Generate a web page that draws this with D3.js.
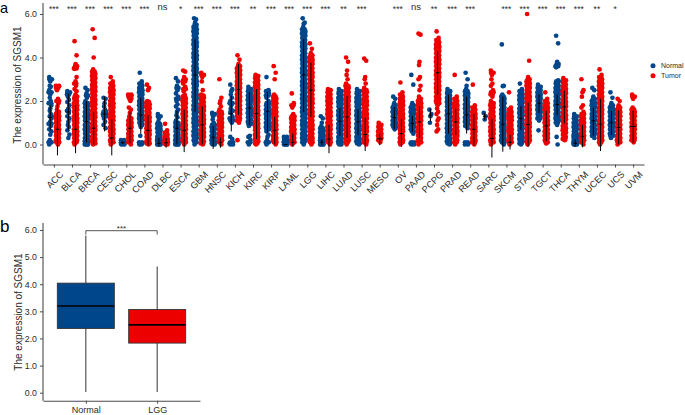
<!DOCTYPE html>
<html><head><meta charset="utf-8">
<script src="https://cdn.jsdelivr.net/npm/d3@7"></script>
<style>html,body{margin:0;padding:0;background:#fff}svg{display:block}text{font-family:"Liberation Sans",Arial,sans-serif}</style>
</head><body><svg id="c" width="685" height="415"></svg>
<script>
const categories=["ACC","BLCA","BRCA","CESC","CHOL","COAD","DLBC","ESCA","GBM","HNSC","KICH","KIRC","KIRP","LAML","LGG","LIHC","LUAD","LUSC","MESO","OV","PAAD","PCPG","PRAD","READ","SARC","SKCM","STAD","TGCT","THCA","THYM","UCEC","UCS","UVM"];
const significance=["***","***","***","***","***","***","ns","*","***","***","***","**","***","***","***","***","**","***","","***","ns","**","***","***","","***","***","***","***","***","**","*",""];
const yTicksA=[0,2,4,6];
const yTicksB=[0,1,2,3,4,5,6];
const groupNames=["Normal","LGG"];
const legendNames=["Normal","Tumor"];
const normalMean=[1.25,1.5,1.05,1.4,.08,1.35,.05,.75,3.2,.33,1.42,1.68,1.53,0,3.2,.1,1.07,1.05,null,1.24,.96,1.35,1.42,1.36,1.3,.93,1.2,1.9,1.84,.05,1.09,1.0,null];
const normalLow=[.66,.65,.1,.6,.02,.5,-.1,0,1.5,-.2,.6,.9,.55,-.02,1.5,-.03,.4,.43,null,.7,.58,1.05,.5,.5,1.15,-.33,.66,1.45,1.35,-.1,.4,.43,null];
const normalHigh=[1.8,2.35,2,2.2,.14,2.15,.3,1.55,4.85,.85,2.25,2.4,2.4,.02,4.85,.23,1.68,1.62,null,1.73,1.32,1.65,2.3,2.2,1.45,2.2,1.76,2.3,2.3,.23,1.7,1.55,null];
const tumorMean=[.7,.7,.75,.3,.75,.65,.08,.65,.9,.1,2.53,1.42,.65,.1,2.5,.25,1.27,.46,.26,.5,1.04,3.3,1.04,.7,.28,.1,.92,.85,1.73,.38,.93,.78,.83];
const tumorLow=[-.5,-.4,0,-.5,.05,-.05,-.15,-.35,0,-.15,1.35,.25,0,-.1,1.27,-.4,.3,-.3,-.03,-.1,.3,2.27,.43,-.05,-.6,-.23,-.1,.15,.97,-.13,-.3,0,.08];
const tumorHigh=[1.9,1.8,1.5,1.15,1.5,1.35,.3,1.6,1.75,.32,3.7,2.55,1.27,.5,3.77,.9,2.22,1.22,.5,1.17,1.76,4.3,1.65,1.4,1.17,.45,1.93,1.55,2.47,.9,2.1,1.58,1.55];
const normalValues=[
[3.1,3,2.9,2.7,2.65,2.5,2.4,2.3,2.15,2,1.9,1.8,1.65,1.55,1.4,1.3,1.2,1.05,.95,.85,.7,.6,.45,.2,.1,0],
[2.45,2.4,2.3,2.2,2.05,1.95,1.8,1.65,1.55,1.45,1.3,1.2,1.05,.9,.8,.65,.45,.3],
[2.6,2.5,2.35,2.25,2.15,2,1.9,1.8,1.7,1.6,1.5,1.4,1.3,1.2,1.1,1,.9,.8,.7,.6,.5,.4,.3,.2,.15,.1,.05,0,0],
[2.15,2.1,1.9,1.75,1.6,1.5,1.4,1.3,1.2,1.05,.9,.75],
[.2,.15,.1,.05,.02,.12,.08,0],
[3.3,2.9,2.8,2.7,2.6,2.5,2.4,2.3,2.2,2.1,2,1.9,1.8,1.7,1.6,1.5,1.4,1.3,1.2,1.1,1,.9,.8,.4,.1,.05,0],
[1.4,1.3,1.2,1.05,.95,.85,.75,.65,.55,.45,.35,.25,.2,.15,.1,.05,0,0],
[3.05,2.9,2.7,2.6,2.5,2.35,2.2,2.1,2,1.85,1.75,1.6,1.5,1.35,1.25,1.1,1,.9,.8,.7,.6,.5,.4,.3,.2,.1,.05,0,0],
[5.8,5.75,5.6,5.5,5.4,5.3,5.2,5.1,5,4.9,4.8,4.7,4.6,4.5,4.4,4.3,4.2,4.1,4,3.9,3.8,3.7,3.6,3.5,3.4,3.3,3.2,3.1,3,2.9,2.8,2.7,2.6,2.5,2.4,2.3,2.2,2.1,2,1.9,1.8,1.7,1.6,1.5,1.4,1.3,1.2,1.1,1,.9,.8,.7,.6,.5,.4,.3,.2,.1,0],
[1.45,1.4,1.3,1.15,1,.9,.8,.7,.6,.5,.4,.3,.2,.1,.05,0],
[2.75,2.55,2.45,2.3,2.15,2,1.9,1.8,1.65,1.55,1.45,1.3,1.2,1.1,1,.35,.25,.1,.05,0],
[2.65,2.55,2.45,2.35,2.25,2.15,2.05,1.95,1.85,1.75,1.65,1.55,1.45,1.35,1.25,1.15,1.05,.95,.85,.4,.35,.2,.1,0],
[3.1,2.5,2.45,2.35,2.25,2.15,2,1.9,1.8,1.7,1.6,1.5,1.4,1.3,1.2,1.1,1,.9,.8,.7,.6,.45,.35,.2,.1,0],
[.35,.3,.25,.2,.15,.12,.1,.08,.05,.02,0,0],
[5.8,5.6,5.55,5.4,5.3,5.2,5.1,5,4.9,4.8,4.7,4.6,4.5,4.4,4.3,4.2,4.1,4,3.9,3.8,3.7,3.6,3.5,3.4,3.3,3.2,3.1,3,2.9,2.8,2.7,2.6,2.5,2.4,2.3,2.2,2.1,2,1.9,1.8,1.7,1.6,1.5,1.4,1.3,1.2,1.1,1,.9,.8,.7,.6,.5,.4,.3,.2,.1,0],
[1.3,1.2,1,.85,.75,.65,.55,.45,.4,.35,.3,.25,.2,.15,.1,.05,0,0],
[2.55,2.45,2.35,2.25,2.15,2.05,1.95,1.85,1.75,1.65,1.55,1.45,1.35,1.25,1.15,1.05,.95,.85,.75,.65,.55,.45,.35,.25,.15,.1,.05,0],
[2.55,2.45,2.35,2.25,2.15,2.05,1.95,1.85,1.75,1.65,1.55,1.45,1.35,1.25,1.15,1.05,.95,.85,.75,.65,.55,.45,.35,.25,.15,.05,0],
[],
[2.2,2.1,1.9,1.8,1.7,1.6,1.5,1.4,1.3,1.2,1.1,1,.9,.8,.7],
[3.2,2.75,1.9,1.8,1.7,1.6,1.5,1.4,1.3,1.2,1.1,1,.9,.8,.7,.6,.5,.1,.05,0],
[1.6,1.4,1.3,1],
[2.55,2.45,2.35,2.25,2.15,2.05,1.95,1.85,1.75,1.65,1.55,1.45,1.35,1.25,1.15,1.05,.95,.85,.75,.65,.55,.45,.35,.25,.15,.05,0],
[3.3,3,2.7,2.55,2.45,2.35,2.25,2.15,2.05,1.95,1.85,1.75,1.65,1.55,1.45,1.35,1.25,1.15,1.05,.95,.85,.75,.1,.05,0],
[1.45,1.3,1.15],
[4.6,2.7,2.68,2.3,2.2,2.1,2,1.9,1.8,1.7,1.6,1.5,1.4,1.3,1.2,1.1,1,.9,.8,.7,.6,.5,.4,.3,.2,.1,0],
[2.8,2.55,2.45,2.35,2.25,2.15,2.05,1.95,1.85,1.75,1.65,1.55,1.45,1.35,1.25,1.15,1.05,.95,.85,.75,.65,.55,.45,.35,.25,.15,.05,0],
[2.75,2.65,2.6,2.5,2.4,2.3,2.2,2.1,2,1.9,1.8,1.7,1.6,1.5,1.4,1.3,1.2,1.1,.65],
[5,4.65,3.8,3.7,3.6,3.55,2.95,2.9,2.8,2.7,2.6,2.5,2.4,2.3,2.2,2.1,2,1.9,1.8,1.7,1.6,1.5,1.4,1.3,1.2,1.1,1,.9,.35,0],
[1.4,1.3,1.2,1.1,1,.9,.8,.7,.6,.5,.45,.4,.35,.3,.25,.2,.15,.1,.05,0,0],
[2.6,2.5,2.2,2.1,2,1.9,1.8,1.7,1.6,1.5,1.4,1.3,1.2,1.1,1,.9,.8,.7,.6,.5,.4,.3],
[2.4,2.15,1.9,1.8,1.7,1.6,1.5,1.4,1.3,1.2,1.1,1,.9,.8,.7,.6,.5,.4,.3],
[]
];
const tumorValues=[
[2.7,2.68,2.6,2.5,2.1,2,1.9,1.75,1.6,1.5,1.4,1.3,1.2,1.1,1,.9,.8,.7,.6,.5,.4,.3,.2,.1,0],
[4.75,4.1,3.7,3.6,3.5,3.48,3.1,2.9,2.8,2.7,2.55,2.45,2.3,2.2,2.1,2,1.9,1.8,1.7,1.6,1.5,1.4,1.3,1.2,1.1,1,.9,.8,.7,.6,.5,.4,.3,.2,.1,0],
[5.3,4.9,4,3.45,3.35,3.25,3.15,3.05,2.95,2.85,2.75,2.65,2.55,2.45,2.35,2.25,2.15,2.05,1.95,1.85,1.75,1.65,1.55,1.45,1.35,1.25,1.15,1.05,.95,.85,.75,.65,.55,.45,.35,.25,.15,.05,0],
[3.1,2.9,2.8,2.7,2.6,2.5,2.4,2.3,2.2,2.1,2,1.9,1.8,1.7,1.6,1.5,1.4,1.3,1.2,1.1,1,.9,.8,.7,.6,.5,.4,.3,.2,.1,0],
[2.3,2.25,2.2,2.1,2,1.7,1.6,1.45,1.3,1.2,1.1,1,.9,.8,.7,.6,.5,.4,.3,.2,.1,0],
[2.75,2.6,2.5,2,1.95,1.85,1.75,1.65,1.55,1.45,1.35,1.25,1.15,1.05,.95,.85,.75,.65,.55,.45,.35,.25,.15,.05,0],
[.95,.65,.55,.45,.35,.25,.15,.1,.05,0],
[3.4,3.35,3.1,3,2.9,2.8,2.65,2.55,2.45,2.3,2.2,2.1,2,1.9,1.8,1.7,1.6,1.5,1.4,1.3,1.2,1.1,1,.9,.8,.7,.6,.5,.4,.3,.2,.1,0],
[3.3,3.2,3.1,2.9,2.5,2.3,2.25,2.15,2.05,1.95,1.85,1.75,1.65,1.55,1.45,1.35,1.25,1.15,1.05,.95,.85,.75,.65,.55,.45,.35,.25,.15,.05,0],
[3,2.15,2,1.9,1.75,1.6,1.5,1.4,1.3,1.2,1.1,1,.9,.8,.7,.6,.5,.4,.3,.2,.1,0],
[4.1,3.9,3.7,3.6,3.5,3.4,3.3,3.2,3.1,3,2.9,2.8,2.7,2.6,2.5,2.4,2.3,2.2,2.1,2,1.9,1.8,1.7,1.6,1.5,1.4,1.3,1.2,1.1,1,.2],
[3.2,3.15,3.05,2.95,2.85,2.75,2.65,2.55,2.45,2.35,2.25,2.15,2.05,1.95,1.85,1.75,1.65,1.55,1.45,1.35,1.25,1.15,1.05,.95,.85,.75,.65,.55,.45,.35,.25,.15,.05,0],
[3.6,3.3,3,2.3,2.2,2.1,2,1.9,1.8,1.7,1.6,1.5,1.4,1.3,1.2,1.1,1,.9,.8,.7,.6,.5,.4,.3,.2,.1,0],
[2.35,1.9,1.8,1.7,1.4,1.3,1.2,1.1,1,.9,.8,.7,.6,.5,.4,.3,.2,.1,0],
[4.65,4.4,4.2,4.1,4,3.9,3.8,3.7,3.6,3.5,3.4,3.3,3.2,3.1,3,2.9,2.8,2.7,2.6,2.5,2.4,2.3,2.2,2.1,2,1.9,1.8,1.7,1.6,1.5,1.4,1.3,1.2,1.1,1,.9,.8,.7,.6,.5,.4,.3,.2,.1,0],
[2.55,2.5,2.4,2.3,2.2,2.1,2,1.9,1.8,1.7,1.6,1.5,1.4,1.3,1.2,1.1,1,.9,.8,.7,.6,.5,.4,.3,.2,.1,0],
[4,3.8,3.4,3.2,3,2.8,2.7,2.6,2.5,2.4,2.3,2.2,2.1,2,1.9,1.8,1.7,1.6,1.5,1.4,1.3,1.2,1.1,1,.9,.8,.7,.6,.5,.4,.3,.2,.1,0],
[3.95,3.85,3.1,3,2.8,2.6,2.5,2.4,2.3,2.2,2.1,2,1.9,1.8,1.7,1.6,1.5,1.4,1.3,1.2,1.1,1,.9,.8,.7,.6,.5,.4,.3,.2,.1,0],
[1,.9,.8,.7,.6,.5,.4,.3,.2,.1],
[2.85,2.4,2.3,2.2,2.1,2,1.9,1.8,1.7,1.6,1.5,1.4,1.3,1.2,1.1,1,.9,.8,.7,.6,.5,.4,.3,.2,.1,0],
[5.1,5.05,3.8,3.65,3.1,3,2.7,2.5,2.2,2.1,2,1.9,1.8,1.7,1.6,1.5,1.4,1.3,1.2,1.1,1,.9,.8,.7,.6,.5,.4,.3,.2,.1,0],
[5.2,4.9,4.8,4.7,4.6,4.5,4.4,4.3,4.2,4.1,4,3.9,3.8,3.7,3.6,3.5,3.4,3.3,3.2,3.1,3,2.9,2.8,2.7,2.6,2.5,2.4,2.3,2.2,2.1,2,1.9,1.8,1.65,1.5,1.4,1.2,1.1,.9,.7,.6],
[3.2,2.2,2.1,2,1.9,1.8,1.7,1.6,1.5,1.4,1.3,1.2,1.1,1,.9,.8,.7,.6,.5,.4,.3,.2,.1,0],
[2.75,1.8,1.7,1.6,1.5,1.4,1.3,1.2,1.1,1,.9,.8,.7,.6,.5,.4,.3,.2,.1,0],
[3.4,3.3,3.2,3,2.8,2.7,2.5,2.4,2.3,2.2,2,1.9,1.8,1.7,1.6,1.5,1.4,1.3,1.2,1.1,1,.9,.8,.7,.6,.5,.4,.3,.2,.1,0],
[2.4,1.7,1.6,1.5,1.4,1.3,1.2,1.1,1,.9,.8,.7,.6,.5,.4,.3,.2,.1,0],
[6,3.85,3.1,3,2.9,2.8,2.7,2.6,2.5,2.4,2.3,2.2,2.1,2,1.9,1.8,1.7,1.6,1.5,1.4,1.3,1.2,1.1,1,.9,.8,.7,.6,.5,.4,.3,.2,.1,0],
[2.4,2.1,2,1.9,1.8,1.7,1.6,1.5,1.4,1.3,1.2,1.1,1,.9,.8,.7,.6,.5,.4,.3,.2,.1,.05],
[3.05,2.95,2.85,2.75,2.65,2.55,2.45,2.35,2.25,2.15,2.05,1.95,1.85,1.75,1.65,1.55,1.45,1.35,1.25,1.15,1.05,.95,.85,.75,.65,.55,.45,.35,.25,.2],
[3,2.5,2.4,2.2,1.8,1.7,1.5,1.4,1.3,1.2,1.1,1,.9,.8,.7,.6,.5,.4,.3,.2,.1,0],
[3.45,3.2,3.1,3,2.9,2.8,2.7,2.6,2.5,2.4,2.3,2.2,2.1,2,1.9,1.8,1.7,1.6,1.5,1.4,1.3,1.2,1.1,1,.9,.8,.7,.6,.5,.4,.3,.2,.1,0],
[2.1,2,1.8,1.7,1.6,1.5,1.4,1.3,1.2,1.1,1,.9,.8,.7,.6,.5,.4,.3,.2,.1,0],
[2.3,2.2,2.1,1.7,1.6,1.5,1.4,1.3,1.2,1.1,1,.9,.8,.7,.6,.5,.4,.3,.2,.1]
];
const boxLow=[.03,.03];
const boxQ1=[2.37,1.83];
const boxMedian=[3.2,2.5];
const boxQ3=[4.04,3.07];
const boxHigh=[5.8,4.65];
const colors=["#00468B","#ED0000"];

const svg=d3.select("#c");
const axisColor="#4a4a4a", textColor="#2b2b2b";
const x=d3.scalePoint().domain(categories).range([43,644]).padding(.6);
const y=d3.scaleLinear().domain([0,6]).range([144.5,14]);
const dodge=3.6, jitter=[-1,1,0,-.5,.5];
const jitterLeft=[-1.7,-.9,-1.4,-.5,-1.6,-1.1], jitterRight=[1.3,1.7,.7,1.5,1,1.7];

function styleAxis(g,size){
  g.selectAll(".domain").attr("stroke",axisColor).attr("stroke-width",1.1);
  g.selectAll(".tick line").attr("stroke",axisColor).attr("stroke-width",1);
  g.selectAll("text").attr("fill",textColor).style("font-size",size+"px");
}
// panel a axes
const gxA=svg.append("g").attr("transform","translate(0,164.5)").call(d3.axisBottom(x).tickSize(3).tickSizeOuter(0));
styleAxis(gxA,9.2);
gxA.selectAll("text").attr("text-anchor","end").attr("dx","0").attr("dy","0").attr("y",0).attr("x",0)
  .attr("transform","translate(5,6) rotate(-45)").attr("dominant-baseline","hanging");
const gyA=svg.append("g").attr("transform","translate(43,0)").call(d3.axisLeft(y).tickValues(yTicksA).tickSize(3));
gyA.select(".domain").attr("d","M0,3V164.5");
styleAxis(gyA,8.8);
svg.append("text").attr("transform","translate(21,85) rotate(-90)").attr("text-anchor","middle").attr("fill",textColor).style("font-size","10px").text("The expression of SGSM1");

// Where a stretch of values is dense the jitter fills the width of the column
function spread(vals){
  const out=[];
  vals.forEach((v,k)=>{
    const near=vals.filter(w=>Math.abs(w-v)<=.12).length;
    if(near>=3){ out.push({v,o:jitterLeft[k%jitterLeft.length]}); out.push({v,o:jitterRight[k%jitterRight.length]}); }
    else out.push({v,o:jitter[k%jitter.length]});
  });
  return out;
}
function series(vals,idx){
  categories.forEach((c,i)=>{
    const single=normalValues[i].length===0;
    const cx=x(c)+(single?0:(idx===0?-dodge:dodge));
    svg.append("g").selectAll("circle").data(spread(vals[i])).join("circle")
      .attr("cx",d=>cx+d.o).attr("cy",d=>y(d.v)).attr("r",2.35).attr("fill",colors[idx]);
  });
}
series(normalValues,0);
series(tumorValues,1);
function bars(mean,low,high,idx){
  categories.forEach((c,i)=>{
    if(mean[i]===null) return;
    const single=normalValues[i].length===0;
    const cx=x(c)+(single?0:(idx===0?-dodge:dodge));
    const g=svg.append("g").attr("stroke","#000").attr("stroke-width",1);
    g.append("line").attr("x1",cx).attr("x2",cx).attr("y1",y(low[i])).attr("y2",y(high[i]));
    const w=single?3:1.8;
    g.append("line").attr("x1",cx-w).attr("x2",cx+w).attr("y1",y(mean[i])).attr("y2",y(mean[i]));
  });
}
bars(normalMean,normalLow,normalHigh,0);
bars(tumorMean,tumorLow,tumorHigh,1);
// significance
svg.append("g").selectAll("text").data(categories).join("text")
  .attr("x",d=>x(d)).attr("y",(d,i)=>significance[i]==="ns"?10:12)
  .attr("text-anchor","middle").attr("fill",textColor)
  .style("font-size",(d,i)=>significance[i]==="ns"?"9.5px":"8.5px")
  .text((d,i)=>significance[i]);
// legend
legendNames.forEach((n,i)=>{
  const ly=65.7+i*10;
  svg.append("circle").attr("cx",653).attr("cy",ly).attr("r",2.5).attr("fill",colors[i]);
  svg.append("text").attr("x",661).attr("y",ly+2.5).attr("fill",textColor).style("font-size","7px").text(n);
});
// panel letters
svg.append("text").attr("x",0).attr("y",13.4).attr("fill","#000").style("font-size","14.5px").text("a");
svg.append("text").attr("x",0).attr("y",232).attr("fill","#000").style("font-size","17px").text("b");

// panel b
const xb=d3.scalePoint().domain(groupNames).range([43,200]).padding(.6);
const yb=d3.scaleLinear().domain([0,6]).range([392.7,230]);
const gxB=svg.append("g").attr("transform","translate(0,400.7)").call(d3.axisBottom(xb).tickSize(3).tickSizeOuter(0));
styleAxis(gxB,9);
const gyB=svg.append("g").attr("transform","translate(43,0)").call(d3.axisLeft(yb).tickValues(yTicksB).tickSize(3));
gyB.select(".domain").attr("d","M0,223V400.7");
styleAxis(gyB,8.8);
svg.append("text").attr("transform","translate(22,312) rotate(-90)").attr("text-anchor","middle").attr("fill",textColor).style("font-size","10px").text("The expression of SGSM1");
groupNames.forEach((n,i)=>{
  const cx=xb(n), w=57;
  svg.append("line").attr("x1",cx).attr("x2",cx).attr("y1",yb(boxLow[i])).attr("y2",yb(boxHigh[i])).attr("stroke","#444").attr("stroke-width",1.1);
  svg.append("rect").attr("x",cx-w/2).attr("width",w).attr("y",yb(boxQ3[i])).attr("height",yb(boxQ1[i])-yb(boxQ3[i])).attr("fill",colors[i]).attr("stroke","#333").attr("stroke-width",.9);
  svg.append("line").attr("x1",cx-w/2).attr("x2",cx+w/2).attr("y1",yb(boxMedian[i])).attr("y2",yb(boxMedian[i])).attr("stroke","#000").attr("stroke-width",1.6);
});
const bx0=xb(groupNames[0]),bx1=xb(groupNames[1]);
svg.append("path").attr("fill","none").attr("stroke","#555").attr("stroke-width",1)
  .attr("d",d3.line()([[bx0,234.5],[bx0,230.7],[bx1,230.7],[bx1,234.5]]));
svg.append("text").attr("x",(bx0+bx1)/2).attr("y",231).attr("text-anchor","middle").attr("fill",textColor).style("font-size","8px").text("***");
</script></body></html>
